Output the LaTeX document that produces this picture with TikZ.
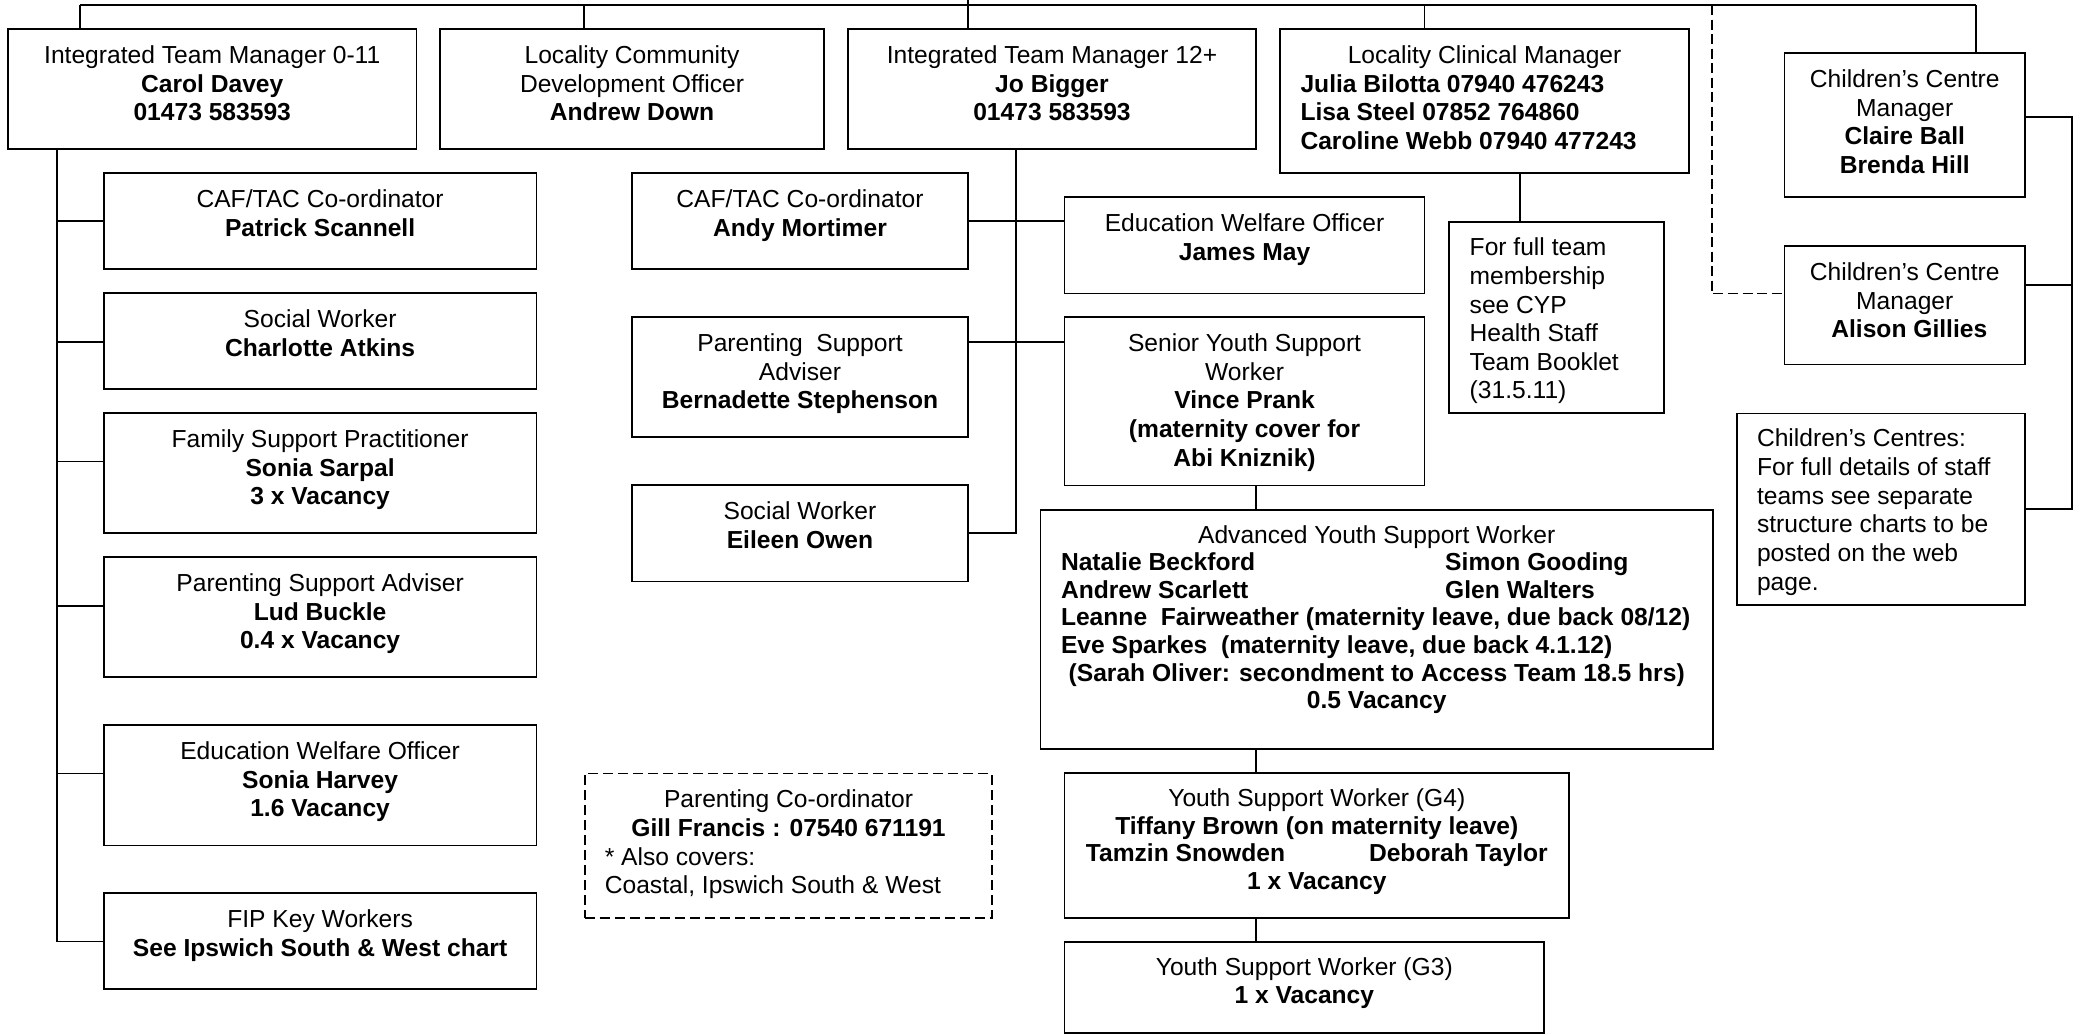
\documentclass[tikz,border=0pt]{standalone}
\usepackage{fontspec}
\setmainfont{Liberation Sans}
\usetikzlibrary{fit}
\newcommand\firststrut{\rule{0pt}{5.5pt}}
\newcommand\mkbox[6][bx]{\node[#1, fit={(#3,#4) (#5,#6)}] (#2) {};}
\begin{document}
\begin{tikzpicture}[x=0.01cm,y=-0.01cm,line width=0.5pt,
  bx/.style={draw, rectangle, inner sep=0pt, outer sep=0pt},
  dbx/.style={bx, dash pattern=on 0.1cm off 0.05cm},
  tx/.style={inner sep=0pt, outer sep=0pt, align=center, anchor=north, font=\fontsize{7}{8.14}\selectfont},
  txl/.style={tx, align=left, anchor=north west},
  tight/.style={font=\fontsize{7}{7.83}\selectfont},
  dln/.style={dash pattern=on 0.1cm off 0.045cm}]
\useasboundingbox (0,0) rectangle (2084,1035);

% ---------- boxes ----------
\mkbox{b1}{8}{29}{416.5}{149}
\mkbox{b2}{440}{29}{824}{149}
\mkbox{b3}{848}{29}{1256}{149}
\mkbox{b4}{1280}{29}{1689}{173}
\mkbox{cc1}{1784.6}{53}{2025}{197}
\mkbox{cc2}{1784.6}{246}{2025}{364.6}
\mkbox{ccs}{1736.7}{413.6}{2025}{605}
\mkbox{ft}{1449}{222}{1664}{413}

\mkbox{ps}{103.8}{173}{536.4}{269}
\mkbox{ca}{103.8}{293}{536.4}{389}
\mkbox{fs}{103.8}{413}{536.4}{533}
\mkbox{lb}{103.8}{557}{536.4}{677}
\mkbox{sh}{103.8}{725}{536.4}{845.5}
\mkbox{fip}{103.8}{893}{536.4}{989}

\mkbox{am}{632}{173}{968}{269}
\mkbox{bs}{632}{317}{968}{437.3}
\mkbox{eo}{632}{485}{968}{581.4}
\mkbox[dbx]{pc}{584.7}{773.4}{992}{917.6}

\mkbox{jm}{1064.6}{197}{1424.5}{293.4}
\mkbox{sy}{1064.6}{317}{1424.5}{485.6}
\mkbox{ay}{1040.6}{510}{1712.7}{749}
\mkbox{g4}{1064.6}{773}{1569}{918}
\mkbox{g3}{1064.6}{942}{1544}{1033}

% ---------- texts ----------
\node[tx] (b1t) at ([yshift=-0.152cm]b1.north) {\firststrut Integrated Team Manager 0-11\\\textbf{Carol Davey}\\\textbf{01473 583593}};
\node[tx] (b2t) at ([yshift=-0.152cm]b2.north) {\firststrut Locality Community\\Development Officer\\\textbf{Andrew Down}};
\node[tx] (b3t) at ([yshift=-0.152cm]b3.north) {\firststrut Integrated Team Manager 12+\\\textbf{Jo Bigger}\\\textbf{01473 583593}};
\node[txl] (b4t) at ([xshift=0.205cm,yshift=-0.152cm]b4.north west) {\firststrut\makebox[3.68cm][c]{Locality Clinical Manager}\\\textbf{Julia Bilotta 07940 476243}\\\textbf{Lisa Steel 07852 764860}\\\textbf{Caroline Webb 07940 477243}};
\node[tx] (cc1t) at ([yshift=-0.152cm]cc1.north) {\firststrut Children’s Centre\\Manager\\\textbf{Claire Ball}\\\textbf{Brenda Hill}};
\node[tx] (cc2t) at ([yshift=-0.152cm]cc2.north) {\firststrut Children’s Centre\\Manager\\\hspace*{0.09cm}\textbf{Alison Gillies}};
\node[txl] (ccst) at ([xshift=0.203cm,yshift=-0.14cm]ccs.north west) {\firststrut Children’s Centres:\\For full details of staff\\teams see separate\\structure charts to be\\posted on the web\\page.};
\node[txl] (ftt) at ([xshift=0.207cm,yshift=-0.145cm]ft.north west) {\firststrut For full team\\membership\\see CYP\\Health Staff\\Team Booklet\\(31.5.11)};

\node[tx] (pst) at ([yshift=-0.152cm]ps.north) {\firststrut CAF/TAC Co-ordinator\\\textbf{Patrick Scannell}};
\node[tx] (cat) at ([yshift=-0.152cm]ca.north) {\firststrut Social Worker\\\textbf{Charlotte Atkins}};
\node[tx] (fst) at ([yshift=-0.152cm]fs.north) {\firststrut Family Support Practitioner\\\textbf{Sonia Sarpal}\\\textbf{3 x Vacancy}};
\node[tx] (lbt) at ([yshift=-0.152cm]lb.north) {\firststrut Parenting Support Adviser\\\textbf{Lud Buckle}\\\textbf{0.4 x Vacancy}};
\node[tx] (sht) at ([yshift=-0.152cm]sh.north) {\firststrut Education Welfare Officer\\\textbf{Sonia Harvey}\\\textbf{1.6 Vacancy}};
\node[tx] (fipt) at ([yshift=-0.152cm]fip.north) {\firststrut FIP Key Workers\\\textbf{See Ipswich South \& West chart}};

\node[tx] (amt) at ([yshift=-0.152cm]am.north) {\firststrut CAF/TAC Co-ordinator\\\textbf{Andy Mortimer}};
\node[tx] (bst) at ([yshift=-0.152cm]bs.north) {\firststrut Parenting\ \ Support\\Adviser\\\textbf{Bernadette Stephenson}};
\node[tx] (eot) at ([yshift=-0.152cm]eo.north) {\firststrut Social Worker\\\textbf{Eileen Owen}};
\node[txl] (pct) at ([xshift=0.201cm,yshift=-0.152cm]pc.north west) {\firststrut\makebox[3.672cm][c]{Parenting Co-ordinator}\\\makebox[3.672cm][c]{\textbf{Gill Francis : 07540 671191}}\\{*}\ Also covers:\\Coastal, Ipswich South \& West};

\node[tx] (jmt) at ([yshift=-0.152cm]jm.north) {\firststrut Education Welfare Officer\\\textbf{James May}};
\node[tx] (syt) at ([yshift=-0.152cm]sy.north) {\firststrut Senior Youth Support\\Worker\\\textbf{Vince Prank}\\\textbf{(maternity cover for}\\\textbf{Abi Kniznik)}};
\node[txl,tight] (ayt) at ([xshift=0.204cm,yshift=-0.14cm]ay.north west) {\firststrut\makebox[6.31cm][c]{Advanced Youth Support Worker}\\
  \textbf{\makebox[3.84cm][l]{Natalie Beckford}Simon Gooding}\\
  \textbf{\makebox[3.84cm][l]{Andrew Scarlett}Glen Walters}\\
  \textbf{Leanne\ \ Fairweather (maternity leave, due back 08/12)}\\
  \textbf{Eve Sparkes\ \ (maternity leave, due back 4.1.12)}\\
  \makebox[6.31cm][c]{\textbf{(Sarah Oliver: secondment to Access Team 18.5 hrs)}}\\
  \makebox[6.31cm][c]{\textbf{0.5 Vacancy}}};
\node[tx,tight] (g4t) at ([yshift=-0.145cm]g4.north) {\firststrut Youth Support Worker (G4)\\\textbf{Tiffany Brown (on maternity leave)}\\\textbf{\makebox[2.83cm][l]{Tamzin Snowden}Deborah Taylor}\\\textbf{1 x Vacancy}};
\node[tx] (g3t) at ([yshift=-0.14cm]g3.north) {\firststrut Youth Support Worker (G3)\\\textbf{1 x Vacancy}};

% ---------- connectors ----------
\coordinate (T1) at (80,5);
\coordinate (T2) at (1976,5);
\draw (T1) -- (T2);
\draw (T1) -- (T1 |- b1.north);
\coordinate (Tcd) at (584,5);
\draw (Tcd) -- (Tcd |- b2.north);
\coordinate (Tup) at (968,0);
\draw (Tup) -- (Tup |- b3.north);
\coordinate (Tcl) at (1424.5,5);
\draw (Tcl) -- (Tcl |- b4.north);
\draw (T2) -- (T2 |- cc1.north);
\coordinate (Td) at (1711.7,5);
\coordinate (D2) at (1711.7,293.4);
\draw[dln] (Td) -- (D2) -- (D2 -| cc2.west);

% left spine
\coordinate (Lend) at (56.7,941.5);
\draw (b1.south -| Lend) -- (Lend) -- (Lend -| fip.west);
\coordinate (L1) at (56.7,221);
\coordinate (L2) at (56.7,342);
\coordinate (L3) at (56.7,461.6);
\coordinate (L4) at (56.7,605.7);
\coordinate (L5) at (56.7,773.4);
\draw (L1) -- (L1 -| ps.west);
\draw (L2) -- (L2 -| ca.west);
\draw (L3) -- (L3 -| fs.west);
\draw (L4) -- (L4 -| lb.west);
\draw (L5) -- (L5 -| sh.west);

% 12+ spine
\coordinate (M) at (1016,533);
\draw (b3.south -| M) -- (M) -- (M -| eo.east);
\coordinate (M1) at (1016,221);
\coordinate (M2) at (1016,342);
\draw (am.east |- M1) -- (M1 -| jm.west);
\draw (bs.east |- M2) -- (M2 -| sy.west);

% youth chain
\coordinate (V) at (1256,500);
\draw (sy.south -| V) -- (ay.north -| V);
\draw (ay.south -| V) -- (g4.north -| V);
\draw (g4.south -| V) -- (g3.north -| V);

% clinical
\coordinate (V4) at (1520,200);
\draw (b4.south -| V4) -- (ft.north -| V4);

% right bracket
\coordinate (R1) at (2072,117);
\coordinate (R2) at (2072,509);
\coordinate (R3) at (2072,284.7);
\draw (cc1.east |- R1) -- (R1) -- (R2) -- (R2 -| ccs.east);
\draw (cc2.east |- R3) -- (R3);
\end{tikzpicture}
\end{document}
